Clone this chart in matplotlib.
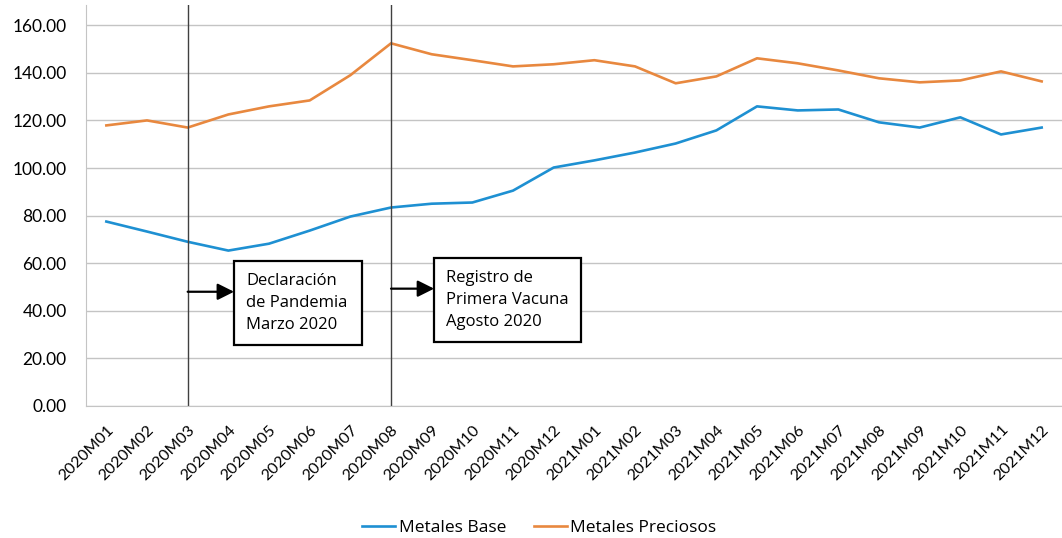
import matplotlib.pyplot as plt
from matplotlib.patches import Rectangle

periods = ['2020M01', '2020M02', '2020M03', '2020M04', '2020M05', '2020M06',
           '2020M07', '2020M08', '2020M09', '2020M10', '2020M11', '2020M12',
           '2021M01', '2021M02', '2021M03', '2021M04', '2021M05', '2021M06',
           '2021M07', '2021M08', '2021M09', '2021M10', '2021M11', '2021M12']
metales_base = [77.5, 73.3, 69.0, 65.3, 68.2, 73.7, 79.6, 83.4, 85.0, 85.5, 90.5, 100.2,
                103.2, 106.5, 110.3, 115.8, 125.9, 124.2, 124.6, 119.2, 117.0, 121.3, 114.1, 117.0]
metales_preciosos = [117.9, 120.0, 117.0, 122.5, 125.9, 128.4, 139.0, 152.4, 147.8, 145.3, 142.7, 143.6,
                     145.3, 142.7, 135.6, 138.5, 146.1, 144.0, 141.0, 137.7, 136.0, 136.8, 140.6, 136.4]
yticks = [0, 20, 40, 60, 80, 100, 120, 140, 160]
events = ['2020M03', '2020M08']
event_labels = ['Declaración\nde Pandemia\nMarzo 2020', 'Registro de\nPrimera Vacuna\nAgosto 2020']

plt.rcParams['font.family'] = ['Open Sans', 'DejaVu Sans']

fig = plt.figure(figsize=(10.62, 5.38), dpi=100)
ax = fig.add_axes([0.081, 0.2454, 0.919, 0.7453])

x = range(len(periods))
ax.plot(x, metales_base, color='#1e90d2', lw=1.9, label='Metales Base')
ax.plot(x, metales_preciosos, color='#e8883f', lw=1.9, label='Metales Preciosos')

ax.set_xlim(-0.5, len(periods) - 0.5)
ax.set_ylim(0, 168.5)
ax.set_yticks(yticks)
ax.set_yticklabels([f'{v:.2f}' for v in yticks], fontsize=12.5, family='Lato')
ax.set_xticks(list(x))
ax.set_xticklabels(periods, rotation=45, ha='right', rotation_mode='anchor',
                   fontsize=11.5, family='Lato')
ax.tick_params(axis='y', length=0, pad=14)
ax.tick_params(axis='x', length=0, pad=12)
ax.grid(axis='y', color='#c4c4c4', lw=1)
ax.set_axisbelow(True)
for s in ['top', 'right']:
    ax.spines[s].set_visible(False)
ax.spines['left'].set_color('#c4c4c4')
ax.spines['bottom'].set_color('#c4c4c4')

# event lines, arrows and boxes
boxes = [(3.14, 25.7, 3.15, 35.4), (8.06, 26.9, 3.61, 35.4)]
arrow_y = [48.0, 49.3]
for ev, lab, (bx, by, bw, bh), ay in zip(events, event_labels, boxes, arrow_y):
    i = periods.index(ev)
    ax.axvline(i, color='#404040', lw=1)
    ax.add_patch(Rectangle((bx, by), bw, bh, fill=True, facecolor='white',
                           edgecolor='black', lw=1.6, zorder=4))
    ax.text(bx + 0.3, by + bh / 2, lab, fontsize=12, va='center', ha='left',
            linespacing=1.5, zorder=5)
    ax.annotate('', xy=(bx, ay), xytext=(i, ay),
                arrowprops=dict(arrowstyle='-|>', color='black', lw=1.6,
                                mutation_scale=25, shrinkA=0, shrinkB=0), zorder=5)

fig.legend(loc='lower center', ncol=2, frameon=False, fontsize=12.5,
           bbox_to_anchor=(0.508, -0.025), handlelength=1.9, handletextpad=0.2,
           columnspacing=1.6)

fig.savefig('out.png', dpi=100)
